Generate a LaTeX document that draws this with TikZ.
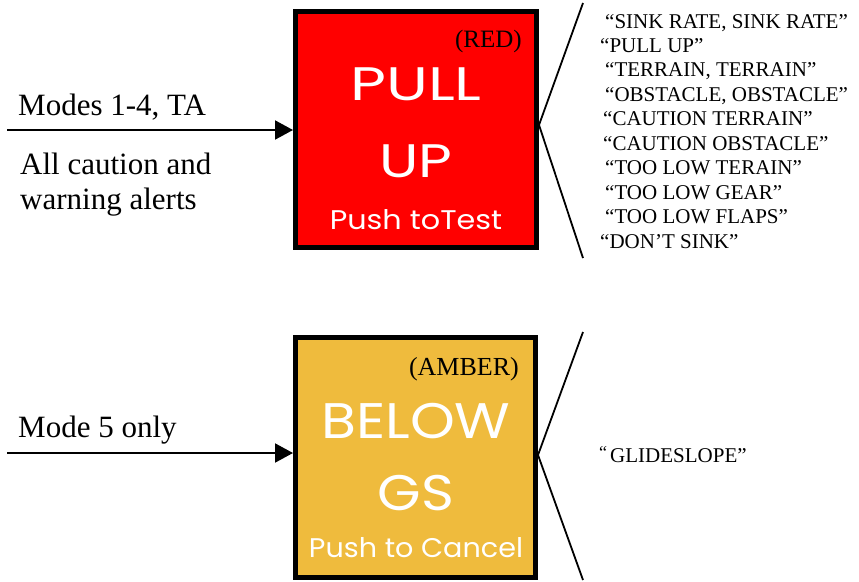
\documentclass[tikz,border=0pt]{standalone}
\usepackage{fontspec}
\usepackage{graphicx}
\setmainfont{Liberation Serif}
\newfontfamily\gsans{Poppins}
\usetikzlibrary{arrows.meta}
\definecolor{pullred}{HTML}{FF0000}
\definecolor{amber}{HTML}{EFBB3D}
\newcommand{\wide}[2]{\scalebox{#1}[1]{#2}}
\tikzset{
  panel/.style={draw=black, line width=5pt, rectangle, inner sep=0pt},
  serif/.style={inner sep=0pt, anchor=base west, font=\fontsize{31}{35}\selectfont},
  quote/.style={inner sep=0pt, anchor=base west, font=\fontsize{21}{24}\selectfont},
  tag/.style={inner sep=0pt, anchor=base east, font=\fontsize{25}{28}\selectfont},
  bigword/.style={inner sep=0pt, anchor=base, text=white, font=\gsans\fontsize{47}{50}\selectfont},
  smallword/.style={inner sep=0pt, anchor=base, text=white, font=\gsans\fontsize{27}{30}\selectfont},
  feed/.style={line width=2pt, -{Triangle[length=18pt,width=19pt]}},
  brace/.style={line width=1.8pt, line join=miter},
}
\begin{document}
\begin{tikzpicture}[x=1pt,y=-1pt]
\useasboundingbox (0,0) rectangle (859,581);
% boxes
\node[panel, fill=pullred, minimum width=240.5pt, minimum height=236pt] (red) at (415.75,129) {};
\node[panel, fill=amber, minimum width=240pt, minimum height=239.5pt] (amb) at (415.5,457.25) {};
% box texts
\node[tag] (redtag) at (522,47) {(RED)};
\node[bigword] (pull) at (416,100) {\wide{1.32}{PULL}};
\node[bigword] (up) at (416,177) {\wide{1.24}{UP}};
\node[smallword] (ptest) at (416,229) {\wide{1.12}{Push toTest}};
\node[tag, font=\fontsize{26}{28}\selectfont] (ambtag) at (519,375) {(AMBER)};
\node[bigword, font=\gsans\fontsize{50}{52}\selectfont] (below) at (416,438) {\wide{1.14}{BELOW}};
\node[bigword, font=\gsans\fontsize{50}{52}\selectfont] (gs) at (416,510) {\wide{1.12}{GS}};
\node[smallword] (pcancel) at (416,557) {\wide{1.06}{Push to Cancel}};
% left texts and arrows
\node[serif] (modes) at (18,115) {Modes 1-4, TA};
\node[serif] (allc) at (20,174) {All caution and};
\node[serif] (warn) at (20,209) {warning alerts};
\node[serif] (mode5) at (18,437) {Mode 5 only};
\coordinate (in1) at (7,130);
\coordinate (in2) at (7,453);
\draw[feed] (in1) -- (in1 -| red.west);
\draw[feed] (in2) -- (in2 -| amb.west);
% brackets
\coordinate (b1t) at (583,3);
\coordinate (b1v) at (539,125);
\coordinate (b1b) at (583,258);
\coordinate (b2t) at (583,332);
\coordinate (b2v) at (538,455);
\coordinate (b2b) at (583,580);
\draw[brace] (b1t) -- (b1v) -- (b1b);
\draw[brace] (b2t) -- (b2v) -- (b2b);
% callouts
\node[quote] (q1) at (605,28) {“SINK RATE, SINK RATE”};
\node[quote] (q2) at (600,52.4) {“PULL UP”};
\node[quote] (q3) at (605,76.9) {“TERRAIN, TERRAIN”};
\node[quote] (q4) at (605,101.3) {“OBSTACLE, OBSTACLE”};
\node[quote] (q5) at (603,125.8) {“CAUTION TERRAIN”};
\node[quote] (q6) at (603,150.2) {“CAUTION OBSTACLE”};
\node[quote] (q7) at (605,174.7) {“TOO LOW TERAIN”};
\node[quote] (q8) at (605,199.1) {“TOO LOW GEAR”};
\node[quote] (q9) at (605,223.6) {“TOO LOW FLAPS”};
\node[quote] (q10) at (600,248) {“DON’T SINK”};
\node[quote] (q11) at (599,462) {\raisebox{4pt}{\fontsize{18}{19}\selectfont“}\hspace{3pt}GLIDESLOPE”};
\end{tikzpicture}
\end{document}
